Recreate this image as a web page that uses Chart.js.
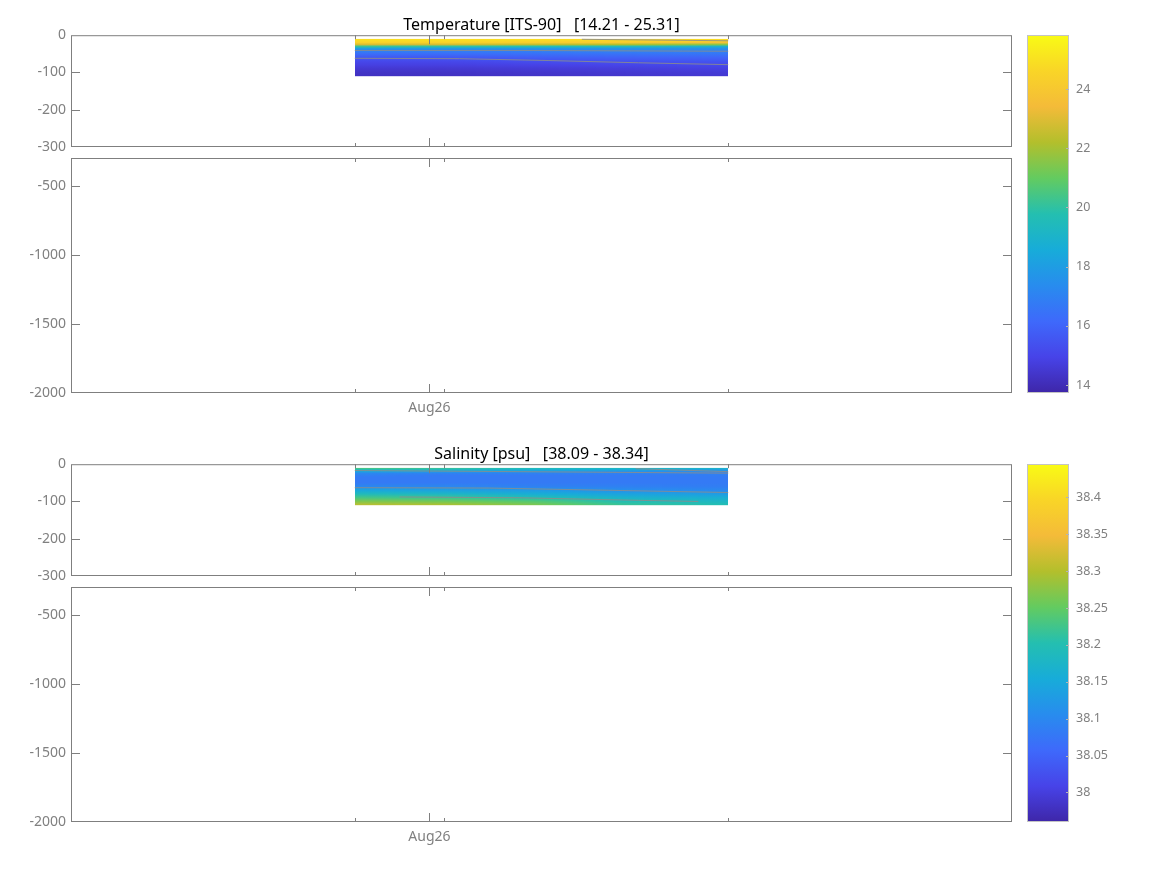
<!DOCTYPE html>
<html>
<head>
<meta charset="utf-8">
<script src="https://cdn.jsdelivr.net/npm/chart.js@4.4.1/dist/chart.umd.min.js"></script>
<style>
    body { margin: 0; background: #fff; }
    #page { position: relative; width: 1167px; height: 875px; overflow: hidden; }
    canvas { position: absolute; }
</style>
</head>
<body>
<div id="page"></div>
<script>
// time axis in hours from Aug 26 00:00
const X_RANGE = [-12, 19.5];
const X_TICKS = [0];
const X_LABELS = ['Aug26'];
const STATION_TIMES = [-2.5, 0.5, 10];

const UPPER_TICKS = [0, -100, -200, -300];
const LOWER_TICKS = [-500, -1000, -1500, -2000];

// profiles: one row per time, one value per depth
const PROFILE_TIMES = [-2.5, 0.5, 3.5, 6.5, 10];
const DEPTHS = [-10, -15, -20, -25, -30, -35, -40, -50, -60, -70, -80, -90, -100, -110];

const TEMP_PROFILES = [
    [24.9, 24.8, 24.4, 22.9, 20.2, 18.2, 17.2, 16.3, 15.6, 15.1, 14.8, 14.5, 14.3, 14.2],
    [24.9, 24.8, 24.4, 22.8, 20.0, 18.0, 17.1, 16.3, 15.6, 15.1, 14.8, 14.5, 14.3, 14.2],
    [24.9, 24.7, 24.2, 22.5, 19.8, 17.9, 17.1, 16.4, 15.8, 15.3, 14.9, 14.6, 14.4, 14.3],
    [24.8, 24.6, 24.0, 22.2, 19.6, 17.8, 17.2, 16.5, 15.9, 15.4, 15.0, 14.7, 14.5, 14.4],
    [24.9, 24.5, 23.6, 21.5, 19.0, 17.6, 17.1, 16.6, 16.0, 15.5, 15.1, 14.8, 14.6, 14.5]
];
const SAL_PROFILES = [
    [38.24, 38.19, 38.14, 38.10, 38.09, 38.08, 38.08, 38.08, 38.10, 38.15, 38.19, 38.23, 38.27, 38.31],
    [38.22, 38.18, 38.13, 38.09, 38.08, 38.08, 38.08, 38.08, 38.10, 38.14, 38.18, 38.22, 38.26, 38.30],
    [38.20, 38.16, 38.12, 38.09, 38.08, 38.08, 38.08, 38.08, 38.09, 38.13, 38.16, 38.20, 38.24, 38.27],
    [38.19, 38.15, 38.11, 38.09, 38.08, 38.08, 38.08, 38.08, 38.09, 38.11, 38.14, 38.17, 38.20, 38.22],
    [38.18, 38.13, 38.10, 38.09, 38.085, 38.08, 38.08, 38.08, 38.085, 38.10, 38.13, 38.16, 38.18, 38.20]
];

// contour lines as [time, depth] points
const TEMP_CONTOURS = [
    [[5.1, -11], [10, -15]],
    [[-2.5, -41], [3, -41], [10, -43]],
    [[-2.5, -62], [1, -63], [4, -68], [7, -74], [10, -79]]
];
const SAL_CONTOURS = [
    [[-2.5, -17], [3, -20], [10, -24]],
    [[6.9, -12], [10, -20]],
    [[-2.5, -63], [2, -64], [6, -70], [10, -76]],
    [[-1, -88], [3, -90], [7, -97], [9, -100]]
];

const TEMP_CLIM = [13.73, 25.83];
const SAL_CLIM = [37.96, 38.445];
const TEMP_CTICKS = [14, 16, 18, 20, 22, 24];
const SAL_CTICKS = [38, 38.05, 38.1, 38.15, 38.2, 38.25, 38.3, 38.35, 38.4];

const PARULA = ['#3e26a8', '#4743e8', '#3e69fb', '#288cee', '#17acd9', '#24bfb0',
                '#63cb60', '#b3bf2c', '#f4bb39', '#f9d527', '#f9fb15'];

const AXIS_COLOR = '#7f7f7f';
const TEXT_COLOR = '#808080';

Chart.defaults.font.family = "'Noto Sans', sans-serif";
Chart.defaults.color = TEXT_COLOR;

let page = document.getElementById('page');
let parulaRgb = PARULA.map(hex => [1, 3, 5].map(i => parseInt(hex.substr(i, 2), 16)));

function colorFor(v, clim) {
    let f = Math.min(1, Math.max(0, (v - clim[0]) / (clim[1] - clim[0])));
    let pos = f * (parulaRgb.length - 1);
    let i = Math.min(parulaRgb.length - 2, Math.floor(pos));
    let w = pos - i;
    let c = parulaRgb[i].map((a, k) => Math.round(a * (1 - w) + parulaRgb[i + 1][k] * w));
    return `rgb(${c[0]},${c[1]},${c[2]})`;
}

const heatmapPlugin = {
    id: 'heatmap',
    beforeDatasetsDraw(chart, args, opts) {
        if (!opts.profiles)
            return;

        let { ctx, chartArea: a, scales: { x, y } } = chart;
        let x0 = Math.round(x.getPixelForValue(PROFILE_TIMES[0]));
        let x1 = Math.round(x.getPixelForValue(PROFILE_TIMES[PROFILE_TIMES.length - 1]));
        let yTop = y.getPixelForValue(DEPTHS[0]);
        let yBot = y.getPixelForValue(DEPTHS[DEPTHS.length - 1]);

        ctx.save();
        ctx.beginPath();
        ctx.rect(a.left, a.top, a.width, a.height);
        ctx.clip();

        for (let px = x0; px < x1; px++) {
            let t = x.getValueForPixel(px + 0.5);
            let i = 0;
            while (i < PROFILE_TIMES.length - 2 && t > PROFILE_TIMES[i + 1])
                i++;
            let w = (t - PROFILE_TIMES[i]) / (PROFILE_TIMES[i + 1] - PROFILE_TIMES[i]);
            w = Math.min(1, Math.max(0, w));

            let grad = ctx.createLinearGradient(0, yTop, 0, yBot);
            DEPTHS.forEach((d, j) => {
                let v = opts.profiles[i][j] * (1 - w) + opts.profiles[i + 1][j] * w;
                grad.addColorStop((y.getPixelForValue(d) - yTop) / (yBot - yTop), colorFor(v, opts.clim));
            });
            ctx.fillStyle = grad;
            ctx.fillRect(px, yTop, 1, yBot - yTop);
        }

        ctx.restore();
    }
};

const framePlugin = {
    id: 'frame',
    afterDatasetsDraw(chart) {
        let { ctx, chartArea: a, scales: { x, y } } = chart;

        ctx.save();
        ctx.strokeStyle = AXIS_COLOR;
        ctx.lineWidth = 1;
        ctx.strokeRect(a.left + 0.5, a.top + 0.5, a.width - 1, a.height - 1);

        ctx.beginPath();
        for (let tick of y.ticks) {
            let py = Math.round(y.getPixelForValue(tick.value)) + 0.5;
            if (py < a.top + 2 || py > a.bottom - 2)
                continue;
            ctx.moveTo(a.left, py); ctx.lineTo(a.left + 9, py);
            ctx.moveTo(a.right - 9, py); ctx.lineTo(a.right, py);
        }
        let xMarks = [
            ...X_TICKS.map(v => [v, 9]),
            ...STATION_TIMES.map(v => [v, 4])
        ];
        for (let [v, len] of xMarks) {
            let px = Math.round(x.getPixelForValue(v)) + 0.5;
            ctx.moveTo(px, a.top); ctx.lineTo(px, a.top + len);
            ctx.moveTo(px, a.bottom); ctx.lineTo(px, a.bottom - len);
        }
        ctx.stroke();
        ctx.restore();
    }
};

const colorbarPlugin = {
    id: 'colorbar',
    beforeDatasetsDraw(chart, args, opts) {
        let { ctx, chartArea: a, scales: { y } } = chart;
        let y0 = y.getPixelForValue(opts.clim[0]);
        let y1 = y.getPixelForValue(opts.clim[1]);

        let grad = ctx.createLinearGradient(0, y0, 0, y1);
        PARULA.forEach((c, i) => grad.addColorStop(i / (PARULA.length - 1), c));

        ctx.save();
        ctx.fillStyle = grad;
        ctx.fillRect(a.left, a.top, a.width, a.height);
        ctx.strokeStyle = '#c4c4c4';
        ctx.lineWidth = 1;
        ctx.strokeRect(a.left + 0.5, a.top + 0.5, a.width - 1, a.height - 1);

        ctx.beginPath();
        for (let tick of y.ticks) {
            let py = Math.round(y.getPixelForValue(tick.value)) + 0.5;
            ctx.moveTo(a.right - 3, py); ctx.lineTo(a.right, py);
        }
        ctx.strokeStyle = '#b4b4b4';
        ctx.stroke();
        ctx.restore();
    }
};

function makeCanvas(left, top, width, height) {
    let canvas = document.createElement('canvas');
    canvas.width = width;
    canvas.height = height;
    canvas.style.left = left + 'px';
    canvas.style.top = top + 'px';
    canvas.style.width = width + 'px';
    canvas.style.height = height + 'px';
    page.appendChild(canvas);
    return canvas;
}

function makeAxes(canvas, cfg) {
    let datasets = (cfg.contours || []).map(line => ({
        data: line.map(p => ({ x: p[0], y: p[1] })),
        showLine: true,
        pointRadius: 0,
        borderColor: 'rgba(140,140,140,0.85)',
        borderWidth: 1
    }));

    return new Chart(canvas, {
        type: 'scatter',
        plugins: [heatmapPlugin, framePlugin],
        data: { datasets: datasets },
        options: {
            responsive: false,
            animation: false,
            devicePixelRatio: 1,
            layout: { padding: cfg.padding },
            scales: {
                x: {
                    type: 'linear',
                    min: X_RANGE[0],
                    max: X_RANGE[1],
                    display: cfg.showX,
                    afterBuildTicks: scale => { scale.ticks = X_TICKS.map(v => ({ value: v })); },
                    afterFit: scale => { if (cfg.showX) scale.height = 27; },
                    grid: { display: false, drawTicks: false },
                    border: { display: false },
                    ticks: {
                        padding: 7,
                        maxRotation: 0,
                        font: { size: 14 },
                        callback: (value, idx) => X_LABELS[idx]
                    }
                },
                y: {
                    type: 'linear',
                    min: cfg.yRange[0],
                    max: cfg.yRange[1],
                    afterBuildTicks: scale => { scale.ticks = cfg.yTicks.map(v => ({ value: v })); },
                    afterFit: scale => { scale.width = 71; },
                    grid: { display: false, drawTicks: false },
                    border: { display: false },
                    ticks: {
                        padding: 5,
                        font: { size: 14 },
                        callback: value => String(value)
                    }
                }
            },
            plugins: {
                legend: { display: false },
                tooltip: { enabled: false },
                title: {
                    display: !!cfg.title,
                    text: cfg.title,
                    fullSize: false,
                    color: '#000',
                    font: { size: 16, weight: 'normal' },
                    padding: { top: 16, bottom: 0 }
                },
                heatmap: { profiles: cfg.profiles, clim: cfg.clim }
            }
        }
    });
}

function makeColorbar(canvas, clim, ticks) {
    return new Chart(canvas, {
        type: 'scatter',
        plugins: [colorbarPlugin],
        data: { datasets: [] },
        options: {
            responsive: false,
            animation: false,
            devicePixelRatio: 1,
            layout: { padding: { left: 7, top: 35, bottom: 27, right: 0 } },
            scales: {
                x: { type: 'linear', min: 0, max: 1, display: false },
                y: {
                    type: 'linear',
                    position: 'right',
                    min: clim[0],
                    max: clim[1],
                    afterBuildTicks: scale => { scale.ticks = ticks.map(v => ({ value: v })); },
                    afterFit: scale => { scale.width = 98; },
                    grid: { display: false, drawTicks: false },
                    border: { display: false },
                    ticks: {
                        padding: 7,
                        font: { size: 12.5 },
                        callback: value => String(Math.round(value * 100) / 100)
                    }
                }
            },
            plugins: {
                legend: { display: false },
                tooltip: { enabled: false },
                colorbar: { clim: clim }
            }
        }
    });
}

function buildPanel(dy, title, profiles, clim, cticks, contours) {
    makeAxes(makeCanvas(0, dy, 1083, 167), {
        title: title,
        padding: { left: 0, right: 71, top: 0, bottom: 20 },
        showX: false,
        yRange: [-300, 0],
        yTicks: UPPER_TICKS,
        profiles: profiles,
        clim: clim,
        contours: contours
    });
    makeAxes(makeCanvas(0, dy + 144, 1083, 276), {
        padding: { left: 0, right: 71, top: 14, bottom: 0 },
        showX: true,
        yRange: [-2000, -300],
        yTicks: LOWER_TICKS
    });
    makeColorbar(makeCanvas(1020, dy, 147, 420), clim, cticks);
}

buildPanel(0, 'Temperature [ITS-90]   [14.21 - 25.31]', TEMP_PROFILES, TEMP_CLIM, TEMP_CTICKS, TEMP_CONTOURS);
buildPanel(429, 'Salinity [psu]   [38.09 - 38.34]', SAL_PROFILES, SAL_CLIM, SAL_CTICKS, SAL_CONTOURS);
</script>
</body>
</html>
